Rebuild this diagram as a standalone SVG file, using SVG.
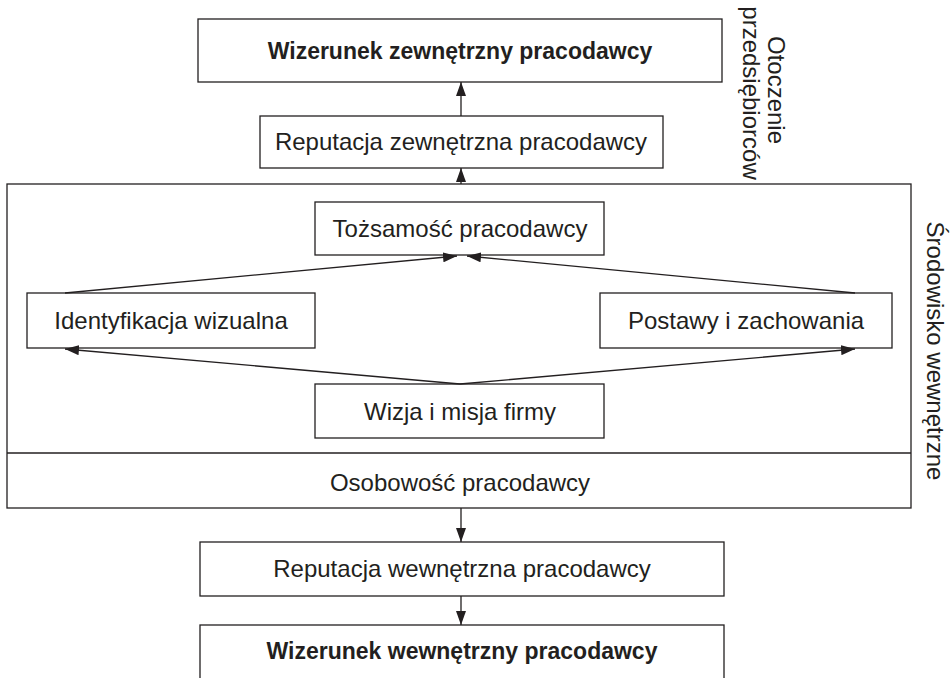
<svg xmlns="http://www.w3.org/2000/svg" width="952" height="678" viewBox="0 0 952 678">
<style>
rect{fill:#fff;stroke:#231f20;stroke-width:1.3}
.t{font-family:"Liberation Sans",Arial,sans-serif;font-size:24px;fill:#231f20;text-anchor:middle}
.b{font-weight:bold;font-size:23px}
.c{stroke:#231f20;stroke-width:1.3;fill:none}
</style>
<defs>
<marker id="ah" viewBox="0 0 14 10" refX="14" refY="5" markerWidth="14" markerHeight="10" markerUnits="userSpaceOnUse" orient="auto">
<path d="M0,0 L14,5 L0,10 Z" fill="#231f20"/>
</marker>
</defs>
<g id="env">
<rect x="7" y="184" width="904" height="324"/>
<line class="c" x1="7" y1="453" x2="911" y2="453"/>
</g>
<g id="wiz-zew"><rect x="198" y="19" width="524" height="63"/><text class="t b" x="460" y="59">Wizerunek zewnętrzny pracodawcy</text></g>
<g id="rep-zew"><rect x="260" y="116" width="403" height="52"/><text class="t" x="461" y="150">Reputacja zewnętrzna pracodawcy</text></g>
<g id="tozsamosc"><rect x="315" y="202" width="289" height="53"/><text class="t" x="460" y="237">Tożsamość pracodawcy</text></g>
<g id="identyfikacja"><rect x="27" y="293" width="288" height="55"/><text class="t" x="171" y="329">Identyfikacja wizualna</text></g>
<g id="postawy"><rect x="600" y="293" width="292" height="55"/><text class="t" x="746" y="329">Postawy i zachowania</text></g>
<g id="wizja"><rect x="315" y="384" width="289" height="54"/><text class="t" x="460" y="420">Wizja i misja firmy</text></g>
<g id="osobowosc"><text class="t" x="460" y="491">Osobowość pracodawcy</text></g>
<g id="rep-wew"><rect x="200" y="542" width="524" height="54"/><text class="t" x="462" y="577">Reputacja wewnętrzna pracodawcy</text></g>
<g id="wiz-wew"><rect x="200" y="625" width="524" height="62"/><text class="t b" x="462" y="659">Wizerunek wewnętrzny pracodawcy</text></g>
<g id="labels">
<text class="t" transform="translate(768,90) rotate(90)">Otoczenie</text>
<text class="t" transform="translate(743,93) rotate(90)">przedsiębiorców</text>
<text class="t" transform="translate(927,351) rotate(90)">Środowisko wewnętrzne</text>
</g>
<g id="connectors">
<line class="c" x1="461" y1="116" x2="461" y2="82" marker-end="url(#ah)"/>
<line class="c" x1="461" y1="184" x2="461" y2="168" marker-end="url(#ah)"/>
<line class="c" x1="65" y1="293" x2="457" y2="256" marker-end="url(#ah)"/>
<line class="c" x1="855" y1="293" x2="467" y2="256" marker-end="url(#ah)"/>
<line class="c" x1="460" y1="384" x2="65" y2="349" marker-end="url(#ah)"/>
<line class="c" x1="460" y1="384" x2="855" y2="349" marker-end="url(#ah)"/>
<line class="c" x1="461" y1="508" x2="461" y2="542" marker-end="url(#ah)"/>
<line class="c" x1="461" y1="596" x2="461" y2="625" marker-end="url(#ah)"/>
</g>
</svg>
